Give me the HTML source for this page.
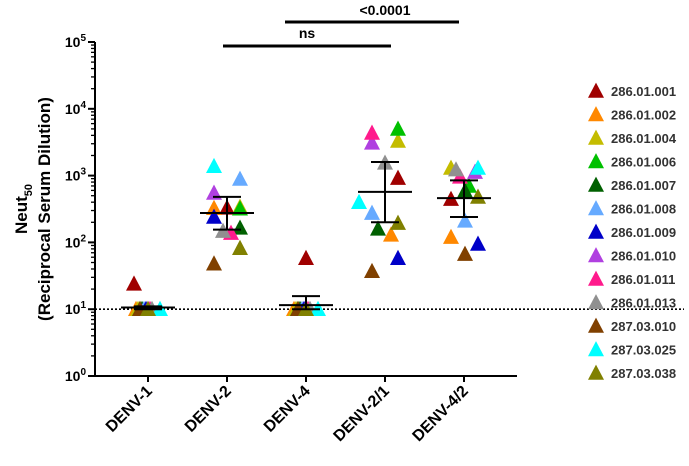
<!DOCTYPE html>
<html><head><meta charset="utf-8"><style>
body{margin:0;background:#fff;}
svg{display:block;font-family:"Liberation Sans",Arial,sans-serif;}
</style></head><body>
<svg id="chart" width="689" height="466" viewBox="0 0 689 466"></svg>
<script>
const groups = ["DENV-1","DENV-2","DENV-4","DENV-2/1","DENV-4/2"];
const donors = ["286.01.001","286.01.002","286.01.004","286.01.006","286.01.007","286.01.008","286.01.009","286.01.010","286.01.011","286.01.013","287.03.010","287.03.025","287.03.038"];
const donorColors = ["#a00000","#ff8800","#c4bc00","#00c000","#006000","#66aaff","#0000c8","#b040e0","#ff1a8c","#909090","#804000","#00ffff","#808000"];
// values per group, indexed by donor
const valsD1  = [24,10,10,10,10,10,10,10,10,10,10,10,10];
const valsD2  = [330,325,340,320,165,890,240,550,138,148,48,1380,82];
const valsD4  = [58,10,10,10,10,10,10,10,10,10,10,10,10];
const valsD21 = [920,130,3300,5000,160,275,58,3100,4350,1550,37,400,195];
const valsD42 = [445,120,1300,700,590,210,95,1130,960,1230,67,1300,480];
const means = [10.6,275,11.5,570,460];
const semHi = [11,480,15.7,1600,850];
const semLo = [10,155,10,200,240];
const yTicks = [0,1,2,3,4,5];
const sigLabels = ["ns","<0.0001"];
const allVals = [valsD1,valsD2,valsD4,valsD21,valsD42];
// horizontal jitter (layout only)
const jit = [
 [-14,-12,-10,-8,-6,-4,-2,0,2,4,-8,12,0],
 [0,-13,13,13,13,13,-13,-13,4,-4,-13,-13,13],
 [0,-12,-10,-8,-6,-4,-2,0,2,4,-8,12,0],
 [13,6,13,13,-7,-13,13,-13,-13,0,-13,-26,13],
 [-13,-13,-13,5,1,1,14,11,-4,-8,1,14,14]
];

const svg = document.getElementById('chart');
const NS = "http://www.w3.org/2000/svg";
const X0 = 95, X1 = 517, yBot = 376, dec = 66.8;
const xPos = i => 148 + i*79;
const yPos = v => yBot - dec*Math.log10(v);
function mk(tag, attrs, parent){ const e=document.createElementNS(NS,tag); for(const k in attrs) e.setAttribute(k,attrs[k]); (parent||svg).appendChild(e); return e; }
function tri(cx,cy,col,s){ return mk('polygon',{points:`${cx-s},${cy+s*0.85} ${cx+s},${cy+s*0.85} ${cx},${cy-s*1.05}`,fill:col}); }

let e = mk('line',{x1:X0,y1:yBot,x2:X1,y2:yBot,stroke:'#000','stroke-width':2});
 
e = mk('line',{x1:X0,y1:yBot+1,x2:X0,y2:yPos(1e5),stroke:'#000','stroke-width':2});
 
yTicks.forEach(p=>{
  const y = yPos(Math.pow(10,p));
  mk('line',{x1:X0-7,y1:y,x2:X0,y2:y,stroke:'#000','stroke-width':2});
  const t = mk('text',{x:X0-9,y:y+5,'text-anchor':'end','font-size':14,'font-weight':'bold'});
   
  t.innerHTML = `10<tspan dy="-6" font-size="10">${p}</tspan>`;
  if(p<5) for(let m=2;m<10;m++){ const ym=yPos(m*Math.pow(10,p)); mk('line',{x1:X0-4,y1:ym,x2:X0,y2:ym,stroke:'#000','stroke-width':1.3}); }
});
e = mk('line',{x1:X0,y1:yPos(10),x2:684,y2:yPos(10),stroke:'#000','stroke-width':1.6,'stroke-dasharray':'2,2'});
 

groups.forEach((g,i)=>{
  const x=xPos(i);
  mk('line',{x1:x,y1:yBot,x2:x,y2:yBot+6,stroke:'#000','stroke-width':2});
  const t = mk('text',{x:x+5,y:392,'text-anchor':'end','font-size':16,'font-weight':'bold',transform:`rotate(-45 ${x+5} 392)`});
   
  t.textContent=g;
});

allVals.forEach((vals,gi)=>{
  const g = mk('g',{});
   
  vals.forEach((v,di)=>{
    const p = tri(xPos(gi)+jit[gi][di], yPos(v), donorColors[di], 8);
    g.appendChild(p);
     
  });
});
means.forEach((m,i)=>{
  const x=xPos(i), g=mk('g',{stroke:'#000','stroke-width':2});
   
  mk('line',{x1:x-27,y1:yPos(m),x2:x+27,y2:yPos(m)},g);
  mk('line',{x1:x,y1:yPos(semHi[i]),x2:x,y2:yPos(semLo[i])},g);
  mk('line',{x1:x-14,y1:yPos(semHi[i]),x2:x+14,y2:yPos(semHi[i])},g);
  mk('line',{x1:x-14,y1:yPos(semLo[i]),x2:x+14,y2:yPos(semLo[i])},g);
});

e = mk('line',{x1:223,y1:46,x2:391,y2:46,stroke:'#000','stroke-width':3});
 
e = mk('text',{x:307,y:38,'text-anchor':'middle','font-size':14,'font-weight':'bold'}); e.textContent=sigLabels[0];
 
e = mk('line',{x1:285,y1:22,x2:459,y2:22,stroke:'#000','stroke-width':3});
 
e = mk('text',{x:385,y:15,'text-anchor':'middle','font-size':14,'font-weight':'bold'}); e.textContent=sigLabels[1];
 

e = mk('text',{x:0,y:0,'text-anchor':'middle','font-size':17,'font-weight':'bold',transform:'translate(27 209) rotate(-90)'});
e.innerHTML='Neut<tspan dy="5" font-size="11">50</tspan>';
 
e = mk('text',{x:0,y:0,'text-anchor':'middle','font-size':17,'font-weight':'bold',transform:'translate(50 209) rotate(-90)'});
e.textContent='(Reciprocal Serum Dilution)';
 

donors.forEach((d,i)=>{
  const y = 91 + i*23.5;
  const g = mk('g',{});
   
  g.appendChild(tri(596,y,donorColors[i],8));
  const t = mk('text',{x:611,y:y+5,'font-size':13,'font-weight':'bold',fill:'#333'},g);
  t.textContent=d;
});
</script>
</body></html>
